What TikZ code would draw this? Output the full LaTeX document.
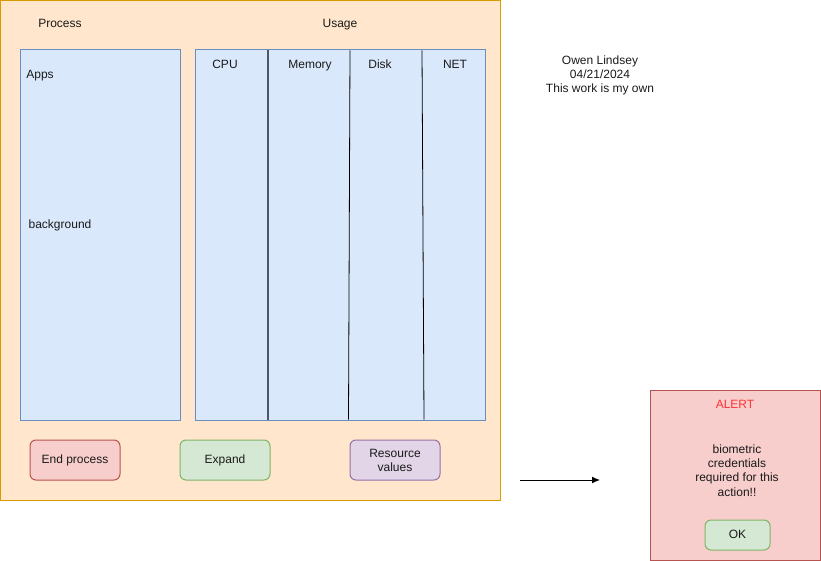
\documentclass[tikz,border=0pt]{standalone}
\usepackage{fontspec}
\setmainfont{Liberation Sans}
\usetikzlibrary{arrows.meta}
\definecolor{orfill}{HTML}{FFE6CC}
\definecolor{ordraw}{HTML}{D79B00}
\definecolor{blfill}{HTML}{DAE8FC}
\definecolor{bldraw}{HTML}{6C8EBF}
\definecolor{rdfill}{HTML}{F8CECC}
\definecolor{rddraw}{HTML}{B85450}
\definecolor{grfill}{HTML}{D5E8D4}
\definecolor{grdraw}{HTML}{82B366}
\definecolor{pufill}{HTML}{E1D5E7}
\definecolor{pudraw}{HTML}{9673A6}
\definecolor{alertred}{HTML}{FF3333}
\definecolor{txt}{HTML}{1A1A1A}
\definecolor{sepgray}{HTML}{4D5766}
\tikzset{
  lbl/.style={font=\fontsize{12}{14.4}\selectfont, text=txt, align=center, inner sep=0pt},
  one/.style={lbl, text height=8.8pt, text depth=2.6pt},
  panel/.style={draw=bldraw, fill=blfill, line width=1pt},
  btn/.style={rounded corners=6pt, line width=1pt},
}
\begin{document}
\begin{tikzpicture}[x=1pt,y=-1pt]
\useasboundingbox (0,0) rectangle (821,561);
% outer container
\path[draw=ordraw, fill=orfill, line width=1pt] (0.5,0.5) rectangle (500,500);
\node[one] (process) at (60,24) {Process};
\node[one] (usage) at (340,24) {Usage};
% apps panel
\path[panel] (20,50) rectangle (180,420);
\node[one] (apps) at (40,75) {Apps};
\node[one] (bg) at (60,225) {background};
% usage panel
\path[panel] (195,50) rectangle (485,420);
\coordinate (s1t) at (268,50.5); \coordinate (s1b) at (268,419.5);
\coordinate (s2t) at (350,50.5); \coordinate (s2b) at (348.5,419.5);
\coordinate (s3t) at (422,50.5); \coordinate (s3b) at (424,419.5);
\draw[sepgray, line width=1.3pt] (s1t) -- (s1b);
\draw[black, line width=0.8pt] (s2t) -- (s2b);
\draw[black, line width=0.8pt] (s3t) -- (s3b);
\node[one] (cpu) at (225,65) {CPU};
\node[one] (mem) at (310,65) {Memory};
\node[one] (disk) at (380,65) {Disk};
\node[one] (net) at (455,65) {NET};
% buttons
\path[btn, draw=rddraw, fill=rdfill] (30,440) rectangle (120,480);
\node[one] (endp) at (75,460) {End process};
\path[btn, draw=grdraw, fill=grfill] (180,440) rectangle (270,480);
\node[one] (expand) at (225,460) {Expand};
\path[btn, draw=pudraw, fill=pufill] (350,440) rectangle (440,480);
\node[lbl] (res) at (395,460.5) {Resource\\values};
% author
\node[lbl] (author) at (600,75.5) {Owen Lindsey\\04/21/2024\\This work is my own};
% arrow
\coordinate (a1) at (520,480);
\coordinate (a2) at (600,480);
\draw[black, line width=1pt, -{Latex[length=8pt,width=7pt]}] (a1) -- (a2);
% alert
\path[draw=rddraw, fill=rdfill, line width=1pt] (650.5,390.5) rectangle (820.5,560.5);
\node[one, text=alertred] (alert) at (735,405) {ALERT};
\node[lbl] (bio) at (737,470.5) {biometric\\credentials\\required for this\\action!!};
\path[btn, draw=grdraw, fill=grfill] (705,520) rectangle (770,550);
\node[one] (ok) at (737.5,535) {OK};
\end{tikzpicture}
\end{document}
